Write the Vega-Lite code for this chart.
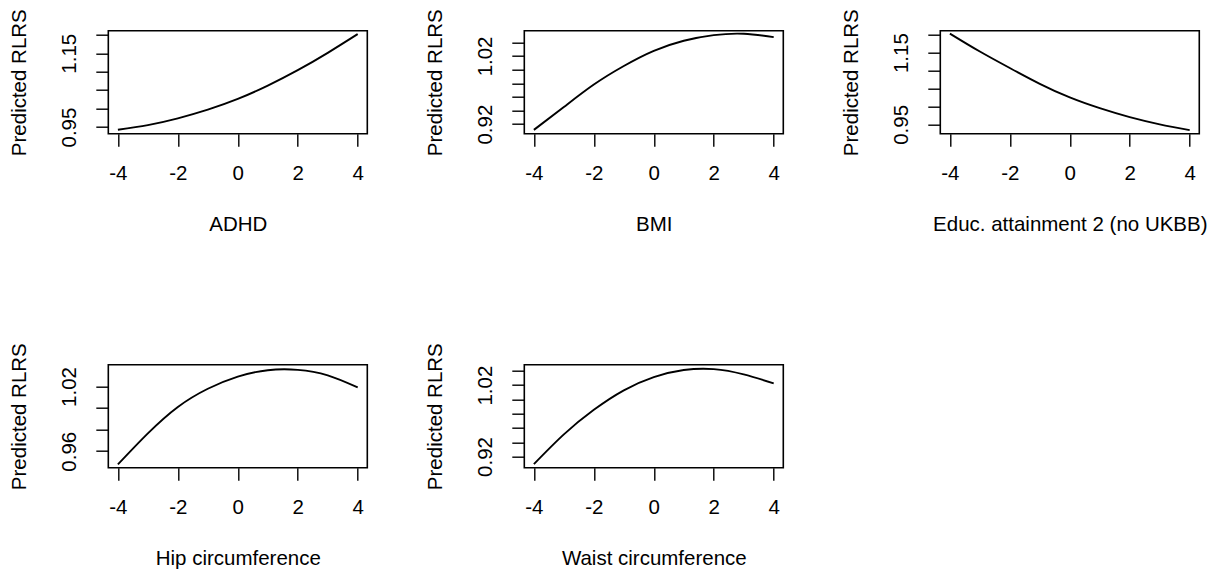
{
  "$schema": "https://vega.github.io/schema/vega-lite/v6.json",
  "background": "white",
  "padding": {"left": 8.3, "top": 7.7, "right": 0, "bottom": 0},
  "datasets": {
    "curves": [
      {"trait": "ADHD", "x": -4, "y": 0.9428}, {"trait": "ADHD", "x": -3, "y": 0.9553}, {"trait": "ADHD", "x": -2, "y": 0.9736}, {"trait": "ADHD", "x": -1, "y": 0.9971}, {"trait": "ADHD", "x": 0, "y": 1.0261}, {"trait": "ADHD", "x": 1, "y": 1.0623}, {"trait": "ADHD", "x": 2, "y": 1.104}, {"trait": "ADHD", "x": 3, "y": 1.151}, {"trait": "ADHD", "x": 4, "y": 1.2018},
      {"trait": "BMI", "x": -4, "y": 0.9116}, {"trait": "BMI", "x": -3, "y": 0.9451}, {"trait": "BMI", "x": -2, "y": 0.978}, {"trait": "BMI", "x": -1, "y": 1.0052}, {"trait": "BMI", "x": 0, "y": 1.0274}, {"trait": "BMI", "x": 1, "y": 1.0422}, {"trait": "BMI", "x": 2, "y": 1.0505}, {"trait": "BMI", "x": 3, "y": 1.0525}, {"trait": "BMI", "x": 4, "y": 1.0476},
      {"trait": "Educ", "x": -4, "y": 1.203}, {"trait": "Educ", "x": -3, "y": 1.153}, {"trait": "Educ", "x": -2, "y": 1.107}, {"trait": "Educ", "x": -1, "y": 1.063}, {"trait": "Educ", "x": 0, "y": 1.025}, {"trait": "Educ", "x": 1, "y": 0.995}, {"trait": "Educ", "x": 2, "y": 0.97}, {"trait": "Educ", "x": 3, "y": 0.95}, {"trait": "Educ", "x": 4, "y": 0.934},
      {"trait": "Hip", "x": -4, "y": 0.9477}, {"trait": "Hip", "x": -3, "y": 0.9765}, {"trait": "Hip", "x": -2, "y": 1.001}, {"trait": "Hip", "x": -1, "y": 1.0179}, {"trait": "Hip", "x": 0, "y": 1.0292}, {"trait": "Hip", "x": 1, "y": 1.0351}, {"trait": "Hip", "x": 2, "y": 1.0354}, {"trait": "Hip", "x": 3, "y": 1.0303}, {"trait": "Hip", "x": 4, "y": 1.0191},
      {"trait": "Waist", "x": -4, "y": 0.9093}, {"trait": "Waist", "x": -3, "y": 0.951}, {"trait": "Waist", "x": -2, "y": 0.9854}, {"trait": "Waist", "x": -1, "y": 1.0127}, {"trait": "Waist", "x": 0, "y": 1.0312}, {"trait": "Waist", "x": 1, "y": 1.0411}, {"trait": "Waist", "x": 2, "y": 1.0424}, {"trait": "Waist", "x": 3, "y": 1.035}, {"trait": "Waist", "x": 4, "y": 1.0223}
    ]
  },
  "data": {"name": "curves"},
  "bounds": "flush",
  "spacing": 334,
  "vconcat": [
    {
      "bounds": "flush",
      "spacing": 157,
      "hconcat": [
        {
          "width": 259, "height": 103,
          "transform": [{"filter": "datum.trait === 'ADHD'"}],
          "mark": {"type": "line", "interpolate": "natural", "color": "black", "strokeWidth": 1.9},
          "encoding": {
            "x": {"field": "x", "type": "quantitative", "scale": {"domain": [-4.32, 4.32], "nice": false, "zero": false}, "axis": {"values": [-4, -2, 0, 2, 4], "title": "ADHD"}},
            "y": {"field": "y", "type": "quantitative", "scale": {"domain": [0.932, 1.211], "nice": false, "zero": false}, "axis": {"values": [0.95, 1.0, 1.05, 1.1, 1.15, 1.2], "labelExpr": "abs(datum.value-0.95)<0.001 || abs(datum.value-1.15)<0.001 ? format(datum.value,'.2f') : ''", "title": "Predicted RLRS"}}
          }
        },
        {
          "width": 259, "height": 103,
          "transform": [{"filter": "datum.trait === 'BMI'"}],
          "mark": {"type": "line", "interpolate": "natural", "color": "black", "strokeWidth": 1.9},
          "encoding": {
            "x": {"field": "x", "type": "quantitative", "scale": {"domain": [-4.32, 4.32], "nice": false, "zero": false}, "axis": {"values": [-4, -2, 0, 2, 4], "title": "BMI"}},
            "y": {"field": "y", "type": "quantitative", "scale": {"domain": [0.906, 1.057], "nice": false, "zero": false}, "axis": {"values": [0.92, 0.94, 0.96, 0.98, 1.0, 1.02, 1.04], "labelExpr": "abs(datum.value-0.92)<0.001 || abs(datum.value-1.02)<0.001 ? format(datum.value,'.2f') : ''", "title": "Predicted RLRS"}}
          }
        },
        {
          "width": 259, "height": 103,
          "transform": [{"filter": "datum.trait === 'Educ'"}],
          "mark": {"type": "line", "interpolate": "natural", "color": "black", "strokeWidth": 1.9},
          "encoding": {
            "x": {"field": "x", "type": "quantitative", "scale": {"domain": [-4.32, 4.32], "nice": false, "zero": false}, "axis": {"values": [-4, -2, 0, 2, 4], "title": "Educ. attainment 2 (no UKBB)"}},
            "y": {"field": "y", "type": "quantitative", "scale": {"domain": [0.924, 1.211], "nice": false, "zero": false}, "axis": {"values": [0.95, 1.0, 1.05, 1.1, 1.15, 1.2], "labelExpr": "abs(datum.value-0.95)<0.001 || abs(datum.value-1.15)<0.001 ? format(datum.value,'.2f') : ''", "title": "Predicted RLRS"}}
          }
        }
      ]
    },
    {
      "bounds": "flush",
      "spacing": 157,
      "hconcat": [
        {
          "width": 259, "height": 103,
          "transform": [{"filter": "datum.trait === 'Hip'"}],
          "mark": {"type": "line", "interpolate": "natural", "color": "black", "strokeWidth": 1.9},
          "encoding": {
            "x": {"field": "x", "type": "quantitative", "scale": {"domain": [-4.32, 4.32], "nice": false, "zero": false}, "axis": {"values": [-4, -2, 0, 2, 4], "title": "Hip circumference"}},
            "y": {"field": "y", "type": "quantitative", "scale": {"domain": [0.9447, 1.0402], "nice": false, "zero": false}, "axis": {"values": [0.96, 0.98, 1.0, 1.02], "labelExpr": "abs(datum.value-0.96)<0.001 || abs(datum.value-1.02)<0.001 ? format(datum.value,'.2f') : ''", "title": "Predicted RLRS"}}
          }
        },
        {
          "width": 259, "height": 103,
          "transform": [{"filter": "datum.trait === 'Waist'"}],
          "mark": {"type": "line", "interpolate": "natural", "color": "black", "strokeWidth": 1.9},
          "encoding": {
            "x": {"field": "x", "type": "quantitative", "scale": {"domain": [-4.32, 4.32], "nice": false, "zero": false}, "axis": {"values": [-4, -2, 0, 2, 4], "title": "Waist circumference"}},
            "y": {"field": "y", "type": "quantitative", "scale": {"domain": [0.9043, 1.0486], "nice": false, "zero": false}, "axis": {"values": [0.92, 0.94, 0.96, 0.98, 1.0, 1.02, 1.04], "labelExpr": "abs(datum.value-0.92)<0.001 || abs(datum.value-1.02)<0.001 ? format(datum.value,'.2f') : ''", "title": "Predicted RLRS"}}
          }
        }
      ]
    }
  ],
  "config": {
    "font": "Liberation Sans",
    "view": {"stroke": "black", "strokeWidth": 1.6},
    "axis": {
      "domain": false, "grid": false,
      "tickColor": "black", "tickWidth": 1.4, "tickSize": 12.5,
      "labelFont": "Liberation Sans", "labelFontSize": 20.5, "labelColor": "black",
      "labelOverlap": false, "labelFlush": false, "labelBound": false,
      "titleFont": "Liberation Sans", "titleFontSize": 20.5, "titleFontWeight": "normal", "titleColor": "black"
    },
    "axisX": {"labelPadding": 17, "labelAngle": 0, "labelBaseline": "top", "labelExpr": "replace(datum.label, '\u2212', '-')", "titlePadding": 31, "titleBaseline": "top"},
    "axisY": {"labelPadding": 16, "labelAngle": 270, "labelAlign": "center", "labelBaseline": "bottom", "titlePadding": 34, "titleAngle": 270, "titleBaseline": "alphabetic"}
  }
}
